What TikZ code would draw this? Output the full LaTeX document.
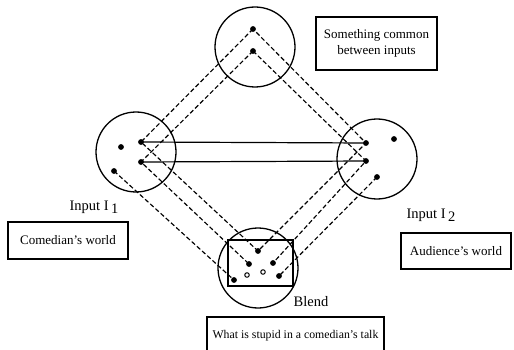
\documentclass[tikz,border=0pt]{standalone}
\usepackage{fontspec}
\setmainfont{Liberation Serif}
\begin{document}
\begin{tikzpicture}[x=1pt,y=-1pt,
  space/.style={draw, circle, line width=1.3pt, minimum size=80pt, inner sep=0pt},
  dot/.style={circle, fill, inner sep=0pt, minimum size=5.8pt},
  hdot/.style={circle, draw, line width=1pt, inner sep=0pt, minimum size=4.5pt},
  map/.style={dash pattern=on 4.5pt off 2.5pt, line width=1.15pt},
  link/.style={line width=1.2pt},
  frame/.style={draw, line width=1.2pt, inner sep=0pt},
  tag/.style={draw, line width=1.1pt, inner sep=0pt, align=center,
    font=\fontsize{13}{15.5}\selectfont},
  lbl/.style={inner sep=0pt, font=\fontsize{14.5}{16}\selectfont}]
\useasboundingbox (0,0) rectangle (514,350);

% the four mental spaces
\node[space] (gen) at (255,47) {};
\node[space] (in1) at (136,152) {};
\node[space] (in2) at (377,159) {};
\node[space] (bl)  at (258,268) {};
\node[frame, minimum width=65pt, minimum height=46pt] (blbox) at (260.5,263) {};

% elements of the generic space
\node[dot] (g1) at (253,29) {};
\node[dot] (g2) at (253,51) {};

% elements of input 1
\node[dot] (a0) at (121,147) {};
\node[dot] (a1) at (141,142) {};
\node[dot] (a2) at (141,162) {};
\node[dot] (a3) at (114,171) {};

% elements of input 2
\node[dot] (b0) at (394,139) {};
\node[dot] (b1) at (366,143) {};
\node[dot] (b2) at (366,161) {};
\node[dot] (b3) at (377,177) {};

% elements of the blend
\node[dot] (c1) at (258,251) {};
\node[dot] (c2) at (249,264) {};
\node[dot] (c3) at (273,263) {};
\node[dot] (c4) at (234,280) {};
\node[dot] (c5) at (279,276) {};
\node[hdot] (c6) at (247,275) {};
\node[hdot] (c7) at (263,272) {};

% cross-space mapping
\draw[link] (a1.center) -- (b1.center);
\draw[link] (a2.center) -- (b2.center);

% projections between spaces
\draw[map] (g1.center) -- (a1.center) -- (c1.center) -- (b1.center) -- (g1.center);
\draw[map] (g2.center) -- (a2.center) -- (c2.center);
\draw[map] (g2.center) -- (b2.center) -- (c3.center);
\draw[map] (a3.center) -- (c4.center);
\draw[map] (b3.center) -- (c5.center);

% labels
\node[tag, minimum width=121pt, minimum height=53pt] (common) at (376.5,43.5)
  {Something common\\between inputs};
\node[lbl] (lab1) at (94,207) {Input I\,\raisebox{-3pt}{1}};
\node[tag, minimum width=120pt, minimum height=37pt] (world1) at (68,240.5)
  {Comedian's world};
\node[lbl] (lab2) at (431,215) {Input I\,\raisebox{-3pt}{2}};
\node[tag, minimum width=110pt, minimum height=36pt] (world2) at (456,251)
  {Audience's world};
\node[lbl] (lab3) at (311,302) {Blend};
\node[tag, minimum width=177pt, minimum height=38pt,
  font=\fontsize{11.8}{14}\selectfont] (talk) at (295.5,336)
  {What is stupid in a comedian's talk};
\end{tikzpicture}
\end{document}
